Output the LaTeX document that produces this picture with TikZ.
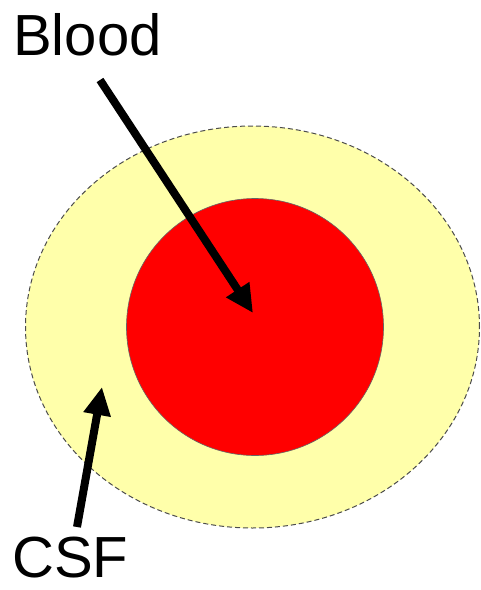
\documentclass[tikz,border=0pt]{standalone}
\usepackage{fontspec}
\setmainfont{Liberation Sans}
\usetikzlibrary{arrows.meta,shapes.geometric}
\definecolor{csfyellow}{RGB}{255,255,170}
\definecolor{bloodred}{RGB}{255,0,0}
\tikzset{
  label text/.style={inner sep=0pt, font=\fontsize{58}{60}\selectfont, anchor=base west},
  pointer/.style={line width=8pt, -{Triangle[length=28pt,width=26pt]}},
}
\begin{document}
\begin{tikzpicture}[x=1pt,y=-1pt]
\useasboundingbox (0,0) rectangle (481,590);
\fill[white] (0,0) rectangle (481,590);
\node[ellipse, minimum width=454pt, minimum height=402pt, inner sep=0pt,
      fill=csfyellow, draw=black!70, dash pattern=on 5pt off 3pt, line width=1pt] (outer) at (252.5,327) {};
\node[circle, minimum size=257pt, inner sep=0pt, fill=bloodred, draw=black!60, line width=0.6pt] (inner) at (255,327) {};
\node[label text] (blood) at (13,55) {Blood};
\node[label text] (csf) at (12,577) {CSF};
\coordinate (bstart) at (100,80);
\coordinate (btip) at (253,313);
\coordinate (cstart) at (77,527);
\coordinate (ctip) at (102,387);
\draw[pointer] (bstart) -- (btip);
\draw[pointer] (cstart) -- (ctip);
\end{tikzpicture}
\end{document}
